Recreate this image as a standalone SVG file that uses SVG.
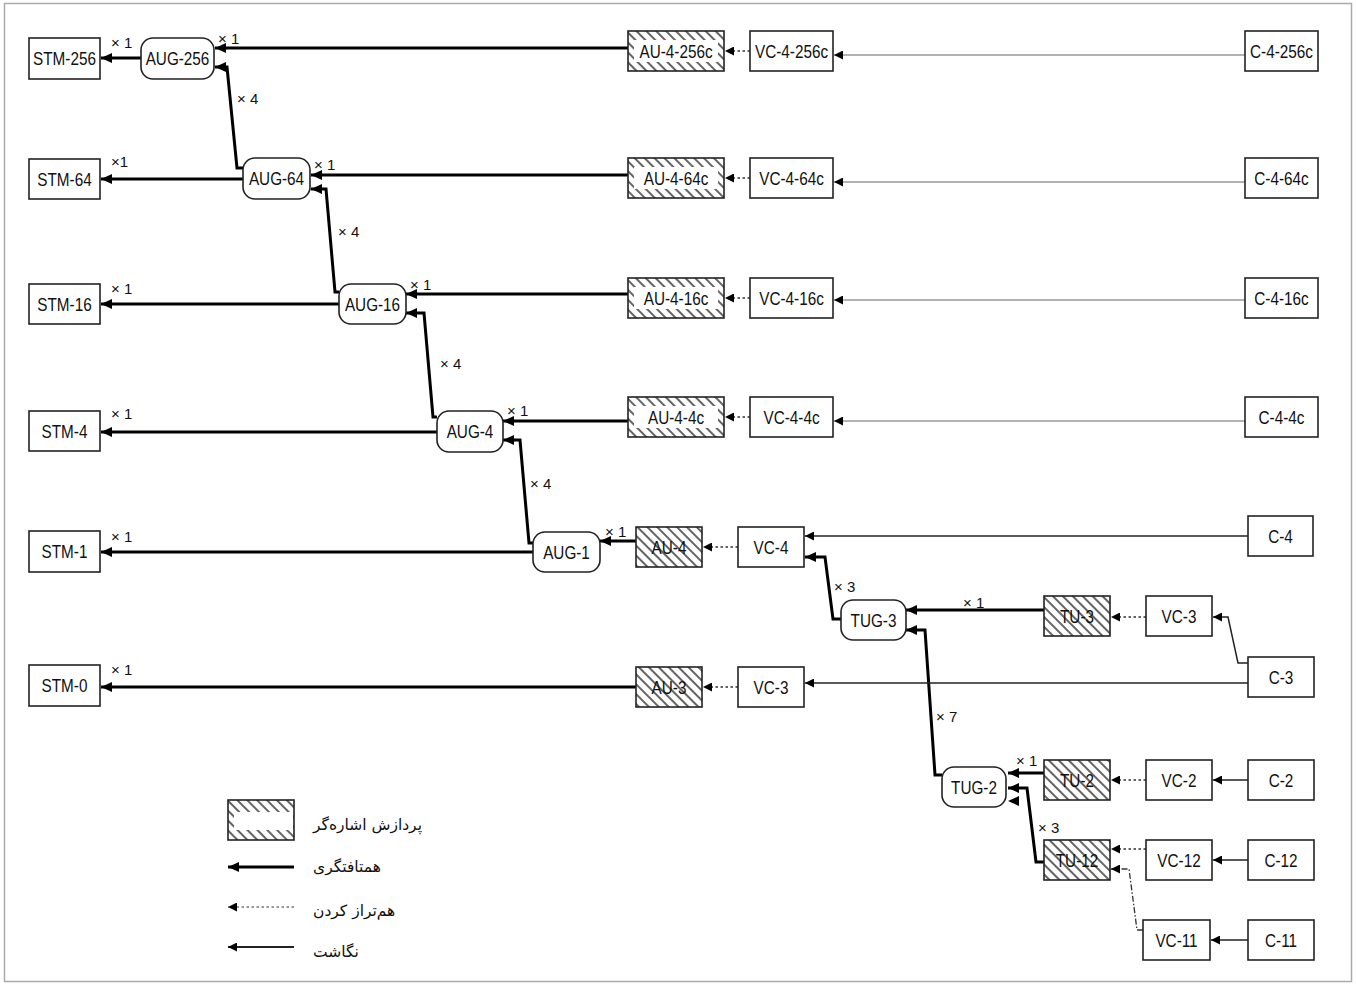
<svg xmlns="http://www.w3.org/2000/svg" width="1356" height="984" viewBox="0 0 1356 984">
<defs>
<pattern id="hatch" patternUnits="userSpaceOnUse" width="7" height="10" patternTransform="rotate(-45)">
<rect width="7" height="10" fill="#fff"/>
<line x1="1" y1="0" x2="1" y2="10" stroke="#222" stroke-width="1.4"/>
</pattern>
<marker id="ah" markerUnits="userSpaceOnUse" markerWidth="12" markerHeight="10" refX="11" refY="5" orient="auto">
<path d="M0,0 L11,5 L0,10 z" fill="#000"/>
</marker>
<marker id="ahs" markerUnits="userSpaceOnUse" markerWidth="10" markerHeight="9" refX="9" refY="4.5" orient="auto">
<path d="M0,0 L9,4.5 L0,9 z" fill="#000"/>
</marker>
</defs>
<style>
.box{fill:#fff;stroke:#222;stroke-width:1.6}
.hb{fill:url(#hatch);stroke:#222;stroke-width:1.6}
.rr{fill:#fff;stroke:#222;stroke-width:1.6}
.t{font-family:"Liberation Sans",Arial,sans-serif;font-size:18px;fill:#111;text-anchor:middle}
.lb{font-family:"Liberation Sans",Arial,sans-serif;font-size:15px;fill:#111}
.fa{font-family:"DejaVu Sans","Noto Sans",sans-serif;font-size:15.5px;fill:#111}
.mux{fill:none;stroke:#000;stroke-width:3;marker-end:url(#ah)}
.map{fill:none;stroke:#222;stroke-width:1.5;marker-end:url(#ahs)}
.mapg{fill:none;stroke:#999;stroke-width:1.5;marker-end:url(#ahs)}
.aln{fill:none;stroke:#333;stroke-width:1.5;stroke-dasharray:2.5 2.5;marker-end:url(#ahs)}
.alnd{fill:none;stroke:#333;stroke-width:1.3;stroke-dasharray:6 2 1.5 2;marker-end:url(#ahs)}
</style>
<rect x="4.5" y="3.5" width="1347" height="978" fill="#fff" stroke="#aaa" stroke-width="1.5"/>

<g id="connectors">
<path class="mux" d="M141,58 L101,58"/>
<path class="mux" d="M628,48 L215,48"/>
<path class="mux" d="M243,168 L237,168 L227,67 L215,67"/>
<path class="mux" d="M243,179 L101,179"/>
<path class="mux" d="M628,175 L311,175"/>
<path class="mux" d="M339,292 L335,292 L326,189 L311,189"/>
<path class="mux" d="M339,304 L101,304"/>
<path class="mux" d="M628,294 L406,294"/>
<path class="mux" d="M437,417 L433,417 L424,313 L406,313"/>
<path class="mux" d="M437,432 L101,432"/>
<path class="mux" d="M628,421 L503,421"/>
<path class="mux" d="M533,543 L529,543 L520,440 L503,440"/>
<path class="mux" d="M533,552 L101,552"/>
<path class="mux" d="M636,541 L600,541"/>
<path class="mux" d="M636,687 L101,687"/>
<path class="mux" d="M841,619 L833,619 L825,557 L805,557"/>
<path class="mux" d="M1044,610 L906,610"/>
<path class="mux" d="M942,775 L935,775 L925,630 L906,630"/>
<path class="mux" d="M1044,773 L1008,773"/>
<path class="mux" d="M1044,862 L1036,862 L1027,788 L1008,788"/>
<path d="M1019,796 L1008,801 L1019,806 z" fill="#000"/>

<path class="mapg" d="M1245,55 L834,55"/>
<path class="mapg" d="M1245,182 L834,182"/>
<path class="mapg" d="M1245,300 L834,300"/>
<path class="mapg" d="M1245,421 L834,421"/>
<path class="map" d="M1248,536 L805,536"/>
<path class="map" d="M1248,663 L1238,663 L1228,617 L1213,617"/>
<path class="map" d="M1248,683 L805,683"/>
<path class="map" d="M1248,780 L1213,780"/>
<path class="map" d="M1248,860 L1213,860"/>
<path class="map" d="M1248,940 L1211,940"/>

<path class="aln" d="M750,51 L725,51"/>
<path class="aln" d="M750,178 L725,178"/>
<path class="aln" d="M750,298 L725,298"/>
<path class="aln" d="M750,417 L725,417"/>
<path class="aln" d="M738,547 L703,547"/>
<path class="aln" d="M738,687 L703,687"/>
<path class="aln" d="M1146,617 L1111,617"/>
<path class="aln" d="M1146,780 L1111,780"/>
<path class="aln" d="M1146,849 L1111,849"/>
<path class="alnd" d="M1143,930 L1137,930 L1129,869 L1111,869"/>
</g>

<g id="labels">
<text class="lb" x="111" y="48">× 1</text>
<text class="lb" x="218" y="44">× 1</text>
<text class="lb" x="237" y="104">× 4</text>
<text class="lb" x="111" y="167">×1</text>
<text class="lb" x="314" y="170">× 1</text>
<text class="lb" x="338" y="237">× 4</text>
<text class="lb" x="111" y="294">× 1</text>
<text class="lb" x="410" y="290">× 1</text>
<text class="lb" x="440" y="369">× 4</text>
<text class="lb" x="111" y="419">× 1</text>
<text class="lb" x="507" y="416">× 1</text>
<text class="lb" x="530" y="489">× 4</text>
<text class="lb" x="111" y="542">× 1</text>
<text class="lb" x="605" y="537">× 1</text>
<text class="lb" x="834" y="592">× 3</text>
<text class="lb" x="963" y="608">× 1</text>
<text class="lb" x="936" y="722">× 7</text>
<text class="lb" x="111" y="675">× 1</text>
<text class="lb" x="1016" y="766">× 1</text>
<text class="lb" x="1038" y="833">× 3</text>
</g>

<g id="STM-256"><rect class="box" x="29" y="38" width="71" height="41"/><text class="t" transform="translate(64.5,65) scale(0.85,1)">STM-256</text></g>
<g id="STM-64"><rect class="box" x="29" y="159" width="71" height="40"/><text class="t" transform="translate(64.5,185.5) scale(0.85,1)">STM-64</text></g>
<g id="STM-16"><rect class="box" x="29" y="284" width="71" height="40"/><text class="t" transform="translate(64.5,310.5) scale(0.85,1)">STM-16</text></g>
<g id="STM-4"><rect class="box" x="29" y="411" width="71" height="40"/><text class="t" transform="translate(64.5,437.5) scale(0.85,1)">STM-4</text></g>
<g id="STM-1"><rect class="box" x="29" y="531" width="71" height="41"/><text class="t" transform="translate(64.5,557.5) scale(0.85,1)">STM-1</text></g>
<g id="STM-0"><rect class="box" x="29" y="665" width="71" height="41"/><text class="t" transform="translate(64.5,691.5) scale(0.85,1)">STM-0</text></g>

<g id="AUG-256"><rect class="rr" x="141" y="38" width="73" height="41" rx="12"/><text class="t" transform="translate(177.5,65) scale(0.85,1)">AUG-256</text></g>
<g id="AUG-64"><rect class="rr" x="243" y="158" width="67" height="41" rx="12"/><text class="t" transform="translate(276.5,185) scale(0.85,1)">AUG-64</text></g>
<g id="AUG-16"><rect class="rr" x="339" y="284" width="67" height="40" rx="12"/><text class="t" transform="translate(372.5,310.5) scale(0.85,1)">AUG-16</text></g>
<g id="AUG-4"><rect class="rr" x="437" y="411" width="66" height="41" rx="12"/><text class="t" transform="translate(470,438) scale(0.85,1)">AUG-4</text></g>
<g id="AUG-1"><rect class="rr" x="533" y="532" width="67" height="40" rx="12"/><text class="t" transform="translate(566.5,558.5) scale(0.85,1)">AUG-1</text></g>

<g id="AU-4-256c"><rect class="hb" x="628" y="31" width="96" height="40"/><rect x="634" y="40" width="84" height="22" fill="#fff"/><text class="t" transform="translate(676,57.5) scale(0.85,1)">AU-4-256c</text></g>
<g id="AU-4-64c"><rect class="hb" x="628" y="158" width="96" height="40"/><rect x="634" y="167" width="84" height="22" fill="#fff"/><text class="t" transform="translate(676,184.5) scale(0.85,1)">AU-4-64c</text></g>
<g id="AU-4-16c"><rect class="hb" x="628" y="278" width="96" height="40"/><rect x="634" y="287" width="84" height="22" fill="#fff"/><text class="t" transform="translate(676,304.5) scale(0.85,1)">AU-4-16c</text></g>
<g id="AU-4-4c"><rect class="hb" x="628" y="397" width="96" height="40"/><rect x="634" y="406" width="84" height="22" fill="#fff"/><text class="t" transform="translate(676,423.5) scale(0.85,1)">AU-4-4c</text></g>

<g id="VC-4-256c"><rect class="box" x="750" y="31" width="83" height="40"/><text class="t" transform="translate(791.5,57.5) scale(0.85,1)">VC-4-256c</text></g>
<g id="VC-4-64c"><rect class="box" x="750" y="158" width="83" height="40"/><text class="t" transform="translate(791.5,184.5) scale(0.85,1)">VC-4-64c</text></g>
<g id="VC-4-16c"><rect class="box" x="750" y="278" width="83" height="40"/><text class="t" transform="translate(791.5,304.5) scale(0.85,1)">VC-4-16c</text></g>
<g id="VC-4-4c"><rect class="box" x="750" y="397" width="83" height="40"/><text class="t" transform="translate(791.5,423.5) scale(0.85,1)">VC-4-4c</text></g>

<g id="C-4-256c"><rect class="box" x="1245" y="31" width="73" height="40"/><text class="t" transform="translate(1281.5,57.5) scale(0.85,1)">C-4-256c</text></g>
<g id="C-4-64c"><rect class="box" x="1245" y="158" width="73" height="40"/><text class="t" transform="translate(1281.5,184.5) scale(0.85,1)">C-4-64c</text></g>
<g id="C-4-16c"><rect class="box" x="1245" y="278" width="73" height="40"/><text class="t" transform="translate(1281.5,304.5) scale(0.85,1)">C-4-16c</text></g>
<g id="C-4-4c"><rect class="box" x="1245" y="397" width="73" height="40"/><text class="t" transform="translate(1281.5,423.5) scale(0.85,1)">C-4-4c</text></g>

<g id="AU-4"><rect class="hb" x="636" y="527" width="66" height="40"/><text class="t" transform="translate(669,553.5) scale(0.85,1)">AU-4</text></g>
<g id="VC-4"><rect class="box" x="738" y="527" width="66" height="40"/><text class="t" transform="translate(771,553.5) scale(0.85,1)">VC-4</text></g>
<g id="C-4"><rect class="box" x="1248" y="516" width="65" height="40"/><text class="t" transform="translate(1280.5,542.5) scale(0.85,1)">C-4</text></g>

<g id="TUG-3"><rect class="rr" x="841" y="600" width="65" height="40" rx="12"/><text class="t" transform="translate(873.5,626.5) scale(0.85,1)">TUG-3</text></g>
<g id="TU-3"><rect class="hb" x="1044" y="596" width="66" height="40"/><text class="t" transform="translate(1077,622.5) scale(0.85,1)">TU-3</text></g>
<g id="VC-3a"><rect class="box" x="1146" y="596" width="66" height="40"/><text class="t" transform="translate(1179,622.5) scale(0.85,1)">VC-3</text></g>
<g id="C-3"><rect class="box" x="1248" y="657" width="66" height="40"/><text class="t" transform="translate(1281,683.5) scale(0.85,1)">C-3</text></g>

<g id="AU-3"><rect class="hb" x="636" y="667" width="66" height="40"/><text class="t" transform="translate(669,693.5) scale(0.85,1)">AU-3</text></g>
<g id="VC-3b"><rect class="box" x="738" y="667" width="66" height="40"/><text class="t" transform="translate(771,693.5) scale(0.85,1)">VC-3</text></g>

<g id="TUG-2"><rect class="rr" x="942" y="767" width="64" height="40" rx="12"/><text class="t" transform="translate(974,793.5) scale(0.85,1)">TUG-2</text></g>
<g id="TU-2"><rect class="hb" x="1044" y="760" width="66" height="40"/><text class="t" transform="translate(1077,786.5) scale(0.85,1)">TU-2</text></g>
<g id="VC-2"><rect class="box" x="1146" y="760" width="66" height="40"/><text class="t" transform="translate(1179,786.5) scale(0.85,1)">VC-2</text></g>
<g id="C-2"><rect class="box" x="1248" y="760" width="66" height="40"/><text class="t" transform="translate(1281,786.5) scale(0.85,1)">C-2</text></g>

<g id="TU-12"><rect class="hb" x="1044" y="840" width="66" height="40"/><text class="t" transform="translate(1077,866.5) scale(0.85,1)">TU-12</text></g>
<g id="VC-12"><rect class="box" x="1146" y="840" width="66" height="40"/><text class="t" transform="translate(1179,866.5) scale(0.85,1)">VC-12</text></g>
<g id="C-12"><rect class="box" x="1248" y="840" width="66" height="40"/><text class="t" transform="translate(1281,866.5) scale(0.85,1)">C-12</text></g>

<g id="VC-11"><rect class="box" x="1143" y="920" width="67" height="40"/><text class="t" transform="translate(1176.5,946.5) scale(0.85,1)">VC-11</text></g>
<g id="C-11"><rect class="box" x="1248" y="920" width="66" height="40"/><text class="t" transform="translate(1281,946.5) scale(0.85,1)">C-11</text></g>

<g id="legend">
<rect class="hb" x="228" y="800" width="66" height="40"/>
<rect x="234" y="812" width="59" height="18" fill="#fff"/>
<text class="fa" x="313" y="830">پردازش اشاره‌گر</text>
<path class="mux" d="M294,867 L228,867"/>
<text class="fa" x="313" y="872">همتافتگری</text>
<path class="aln" d="M294,907 L228,907" style="stroke-width:1.2"/>
<text class="fa" x="313" y="916">هم‌تراز کردن</text>
<path class="map" d="M294,947 L228,947" style="stroke-width:2"/>
<text class="fa" x="313" y="957">نگاشت</text>
</g>
</svg>
